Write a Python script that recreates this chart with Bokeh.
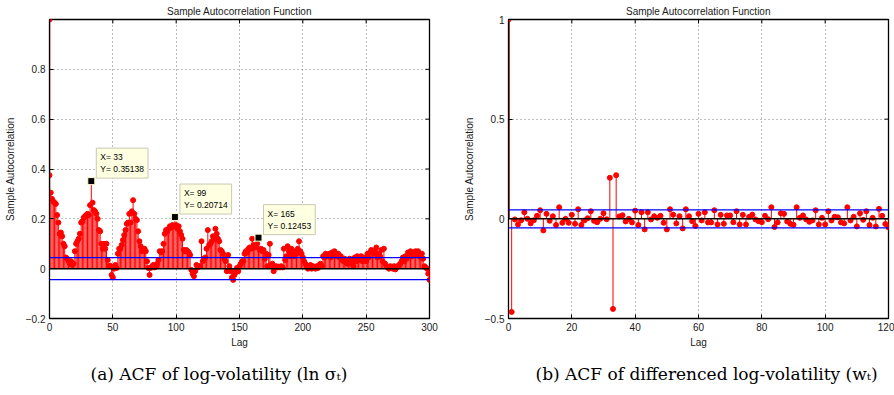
import math
from bokeh.plotting import figure
from bokeh.layouts import row
from bokeh.models import FixedTicker, Range1d, Span, Label, Title
from bokeh.embed import file_html
from bokeh.resources import INLINE

# ---------------- data ----------------
acf_log_vol = [
    0.375, 0.305, 0.28, 0.27, 0.265, 0.26, 0.215, 0.185, 0.14, 0.145,
    0.13, 0.10, 0.09, 0.045, 0.04, 0.03, 0.02, 0.03, 0.015, 0.02,
    0.07, 0.10, 0.11, 0.12, 0.14, 0.185, 0.19, 0.205, 0.21, 0.215,
    0.22, 0.215, 0.255, 0.35138, 0.265, 0.235, 0.23, 0.22, 0.20, 0.155,
    0.15, 0.10, 0.08, 0.10, 0.08, 0.10, 0.035, 0.01, 0.012, -0.025,
    -0.035, 0.0, 0.015, 0.003, 0.06, 0.08, 0.08, 0.095, 0.115, 0.135,
    0.155, 0.18, 0.185, 0.22, 0.185, 0.23, 0.275, 0.22, 0.2, 0.195,
    0.15, 0.11, 0.09, 0.07, 0.075, 0.08, 0.07, 0.03, 0.003, -0.025,
    0.003, 0.01, 0.015, 0.005, 0.01, 0.02, 0.035, 0.07, 0.065, 0.07,
    0.1, 0.14, 0.155, 0.15, 0.16, 0.17, 0.165, 0.175, 0.17, 0.20714,
    0.175, 0.16, 0.17, 0.15, 0.135, 0.12, 0.075, 0.07, 0.075, 0.07,
    0.065, 0.055, -0.005, -0.02, -0.03, -0.01, 0.015, 0.005, 0.01, 0.01,
    0.11, 0.03, 0.04, 0.045, 0.08, 0.155, 0.095, 0.10, 0.11, 0.13,
    0.12, 0.16, 0.14, 0.12, 0.11, 0.075, 0.07, 0.06, 0.04, 0.03,
    -0.01, 0.055, 0.01, -0.01, -0.035, -0.045, -0.025, -0.015, 0.003, -0.01,
    0.01, 0.02, 0.03, 0.03, 0.06, 0.07, 0.065, 0.08, 0.085, 0.08,
    0.12, 0.095, 0.085, 0.09, 0.10, 0.12453, 0.075, 0.08, 0.07, 0.075,
    0.04, 0.06, 0.01, 0.055, 0.10, 0.015, 0.02, -0.01, 0.005, 0.01,
    0.005, 0.008, 0.005, 0.01, 0.005, 0.08, 0.035, 0.05, 0.09, 0.07,
    0.05, 0.08, 0.065, 0.05, 0.07, 0.06, 0.08, 0.11, 0.07, 0.06,
    0.045, 0.03, 0.02, 0.01, 0.0, 0.005, 0.015, 0.0, 0.01, 0.005,
    0.0, 0.01, 0.003, 0.015, 0.02, 0.01, 0.05, 0.045, 0.06, 0.05,
    0.055, 0.06, 0.045, 0.065, 0.055, 0.07, 0.055, 0.05, 0.06, 0.045,
    0.05, 0.035, 0.03, 0.04, 0.025, 0.02, 0.03, 0.04, 0.02, 0.03,
    0.01, 0.045, 0.03, 0.05, 0.04, 0.035, 0.05, 0.03, 0.045, 0.04,
    0.03, 0.06, 0.045, 0.065, 0.075, 0.07, 0.06, 0.07, 0.085, 0.045,
    0.06, 0.05, 0.075, 0.03, 0.08, 0.02, 0.01, 0.005, 0.0, 0.01,
    0.005, 0.0, 0.01, -0.003, 0.005, 0.01, 0.015, 0.02, 0.03, 0.045,
    0.03, 0.05, 0.04, 0.065, 0.06, 0.07, 0.05, 0.065, 0.06, 0.07,
    0.055, 0.07, 0.05, 0.045, 0.06, 0.04, 0.01, 0.005, 0.0, -0.02,
    -0.045,
]
lags_a = list(range(len(acf_log_vol)))
bound_a = 0.044

acf_diff = [
    1.0, -0.467, -0.003, -0.028, -0.007, 0.033, 0.0, -0.023, -0.007, 0.015,
    0.043, -0.058, 0.025, -0.01, 0.013, -0.031, 0.058, -0.02, 0.0, -0.02,
    0.02, -0.025, 0.048, -0.031, -0.008, 0.003, 0.038, -0.01, -0.017, 0.0,
    0.028, -0.002, 0.206, -0.452, 0.219, 0.012, 0.018, -0.013, 0.0, -0.018,
    0.041, -0.031, 0.033, -0.053, 0.033, -0.003, 0.013, 0.005, 0.015, -0.02,
    -0.053, 0.048, 0.021, -0.023, 0.013, -0.048, 0.048, 0.013, -0.012, -0.036,
    0.025, -0.008, 0.033, -0.018, -0.018, 0.043, -0.028, 0.02, -0.025, 0.017,
    0.017, -0.017, 0.038, -0.028, 0.02, -0.028, 0.01, 0.021, -0.003, -0.012,
    -0.017, 0.015, -0.002, 0.058, -0.041, -0.018, 0.028, 0.025, -0.013, -0.025,
    -0.03, 0.058, 0.005, 0.017, -0.003, -0.015, -0.008, 0.043, -0.028, 0.005,
    -0.028, 0.038, -0.008, 0.01, 0.008, -0.018, -0.023, 0.058, -0.008, 0.01,
    -0.038, 0.028, -0.005, 0.038, -0.031, 0.005, -0.038, 0.05, 0.015, -0.026,
    -0.043,
]
lags_b = list(range(len(acf_diff)))
bound_b = 0.045

tips_x = [33, 99, 165]
tips_y = [0.35138, 0.20714, 0.12453]

xticks_a = [0, 50, 100, 150, 200, 250, 300]
yticks_a = [-0.2, 0, 0.2, 0.4, 0.6, 0.8]
ylabels_a = ["\u22120.2", "0", "0.2", "0.4", "0.6", "0.8"]
xticks_b = [0, 20, 40, 60, 80, 100, 120]
yticks_b = [-0.5, 0, 0.5, 1]
ylabels_b = ["\u22120.5", "0", "0.5", "1"]

title_text = "Sample Autocorrelation Function"
ylab = "Sample Autocorrelation"
xlab = "Lag"
caption_a = "(a)  ACF of log-volatility (ln \u03c3\u209c)"
caption_b = "(b)  ACF of differenced log-volatility (w\u209c)"

SANS = "Liberation Sans"
TXT = "#1a1a1a"


def make_fig(xr, yr, xticks, yticks, ylabels, bl, br, caption, cap_off):
    p = figure(width=447, height=395, x_range=Range1d(*xr), y_range=Range1d(*yr),
               output_backend="svg", toolbar_location=None,
               min_border_left=bl, min_border_right=br,
               min_border_top=17, min_border_bottom=77)
    p.title.text = title_text
    p.title.text_font = SANS
    p.title.text_font_size = "10px"
    p.title.text_font_style = "normal"
    p.title.text_color = TXT
    p.title.align = "center"
    p.title.standoff = 6
    p.outline_line_color = "black"
    p.outline_line_width = 1.3
    p.background_fill_color = "white"
    p.border_fill_color = "white"

    xt = FixedTicker(ticks=xticks)
    yt = FixedTicker(ticks=yticks)
    p.xaxis.ticker = xt
    p.yaxis.ticker = yt
    p.yaxis.major_label_overrides = {t: s for t, s in zip(yticks, ylabels)}
    for ax in (p.xaxis[0], p.yaxis[0]):
        ax.major_tick_in = 4
        ax.major_tick_out = 0
        ax.minor_tick_in = 0
        ax.minor_tick_out = 0
        ax.major_label_text_font = SANS
        ax.major_label_text_font_size = "10px"
        ax.major_label_text_color = TXT
        ax.axis_label_text_font = SANS
        ax.axis_label_text_font_size = "10px"
        ax.axis_label_text_font_style = "normal"
        ax.axis_label_text_color = TXT
        ax.axis_line_color = "black"
        ax.major_tick_line_color = "black"
        ax.major_label_standoff = 4
    p.xaxis.axis_label = xlab
    p.yaxis.axis_label = ylab
    p.xaxis.axis_label_standoff = 3
    p.yaxis.axis_label_standoff = 7

    # inward ticks on the top and right edges of the box
    p.ray(x=xticks, y=[yr[1]] * len(xticks), length=4, length_units="screen",
          angle=-math.pi / 2, line_color="black", line_width=1)
    p.ray(x=[xr[1]] * len(yticks), y=yticks, length=4, length_units="screen",
          angle=math.pi, line_color="black", line_width=1)

    p.xgrid.ticker = xt
    p.ygrid.ticker = yt
    p.grid.grid_line_color = "#7a7a7a"
    p.grid.grid_line_dash = "1 3"
    p.grid.grid_line_width = 1

    p.add_layout(Title(text=caption, align="left", text_font="DejaVu Serif",
                       text_font_size="17px", text_font_style="normal",
                       text_color="black", offset=cap_off, standoff=23), "below")
    return p


# ---- left panel ----
pa = make_fig((0, 300), (-0.2, 1.0), xticks_a, yticks_a, ylabels_a, 49, 18, caption_a, 41)
pa.segment(x0=lags_a, y0=[0] * len(lags_a), x1=lags_a, y1=acf_log_vol,
           line_color="#ff0000", line_width=1)
pa.scatter(lags_a, acf_log_vol, size=5, fill_color="#ff0000", line_color="#ff0000")
pa.scatter([0], [1.0], size=5, fill_color="#ff0000", line_color="#ff0000")
pa.segment(x0=[0], y0=[0], x1=[0], y1=[1.0], line_color="#ff0000", line_width=1.5)
pa.add_layout(Span(location=0, dimension="width", line_color="black", line_width=1.5))
pa.add_layout(Span(location=bound_a, dimension="width", line_color="#0000ff", line_width=1.2))
pa.add_layout(Span(location=-bound_a, dimension="width", line_color="#0000ff", line_width=1.2))
pa.scatter(tips_x, tips_y, marker="square", size=7, fill_color="black",
           line_color="#ffffcc", line_width=1)
for tx, ty in zip(tips_x, tips_y):
    pa.add_layout(Label(x=tx, y=ty, x_offset=5, y_offset=3,
                        text=f"X= {tx}\nY= {ty:.5f}",
                        text_font=SANS, text_font_size="8.5px", text_color="black",
                        background_fill_color="#ffffe1", border_line_color="#c8c8b4",
                        border_line_width=1, padding=4))

# ---- right panel ----
pb = make_fig((0, 120), (-0.5, 1.0), xticks_b, yticks_b, ylabels_b, 61, 6, caption_b, 27)
pb.segment(x0=lags_b[1:], y0=[0] * (len(lags_b) - 1), x1=lags_b[1:], y1=acf_diff[1:],
           line_color="#ff0000", line_width=1)
pb.segment(x0=lags_b[:1], y0=[0], x1=lags_b[:1], y1=acf_diff[:1],
           line_color="#8b0000", line_width=2.5)
pb.scatter(lags_b, acf_diff, size=5, fill_color="#ff0000", line_color="#ff0000")
pb.add_layout(Span(location=0, dimension="width", line_color="black", line_width=1.5))
pb.add_layout(Span(location=bound_b, dimension="width", line_color="#0000ff", line_width=1.2))
pb.add_layout(Span(location=-bound_b, dimension="width", line_color="#0000ff", line_width=1.2))

layout = row(pa, pb)
open("out.html", "w").write(file_html(layout, INLINE))
